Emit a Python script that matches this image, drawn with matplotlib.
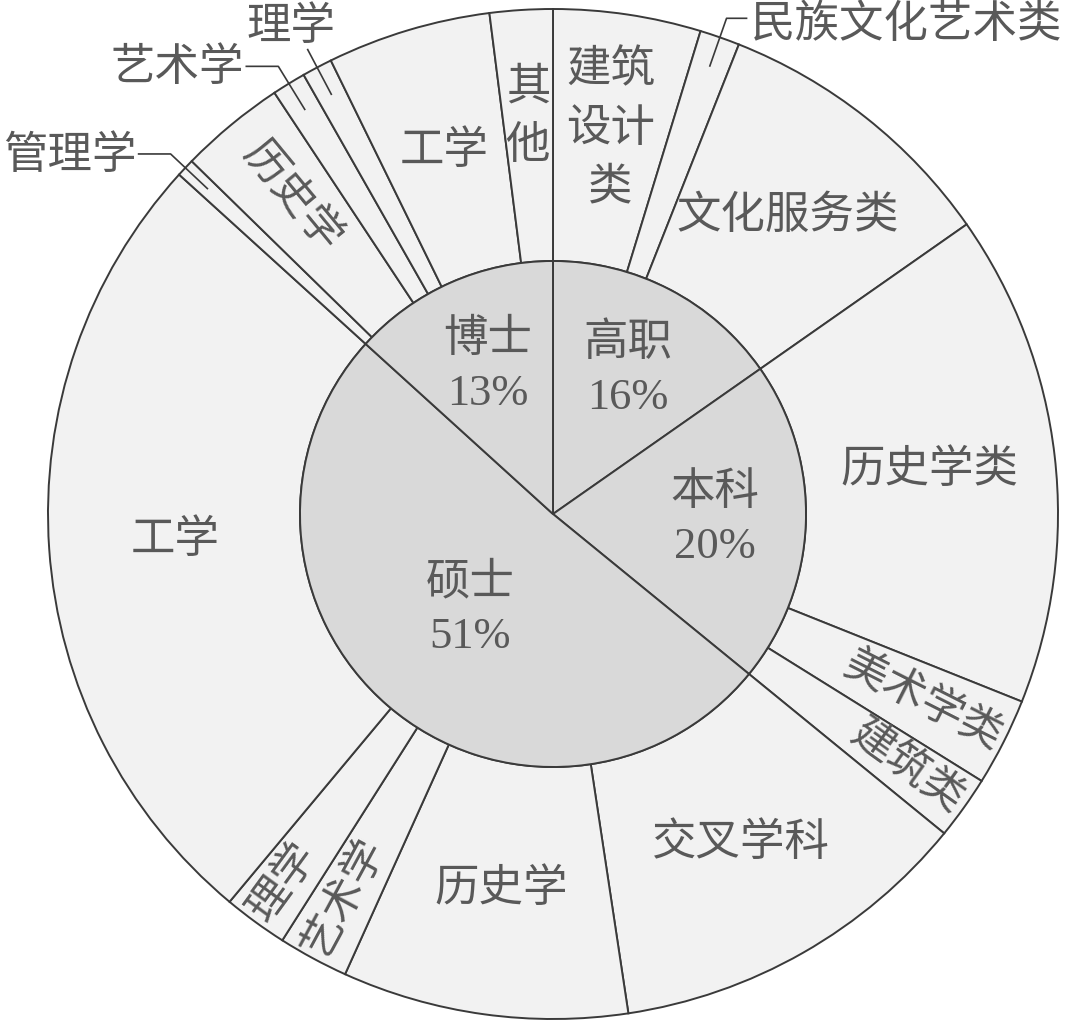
import numpy as np
import matplotlib
matplotlib.use('Agg')
import matplotlib.pyplot as plt

plt.rcParams['font.family'] = ['Liberation Serif', 'Noto Sans CJK SC']

# inner ring: education level
levels = ['高职', '本科', '硕士', '博士']
level_pct = ['16%', '20%', '51%', '13%']

# outer ring: subject per level (share of total, %)
gaozhi_names = ['建筑设计类', '民族文化艺术类', '文化服务类']
gaozhi_vals = [4.72, 1.28, 9.28]
benke_names = ['历史学类', '美术学类', '建筑类']
benke_vals = [15.78, 2.81, 2.03]
shuoshi_names = ['交叉学科', '历史学', '艺术学', '理学', '工学']
shuoshi_vals = [11.72, 9.14, 2.25, 2.06, 25.67]
boshi_names = ['管理学', '历史学', '艺术学', '理学', '工学', '其他']
boshi_vals = [0.58, 3.39, 1.08, 0.97, 5.24, 2.01]

child_names = [gaozhi_names, benke_names, shuoshi_names, boshi_names]
child_vals = [gaozhi_vals, benke_vals, shuoshi_vals, boshi_vals]

inner_vals = [sum(v) for v in child_vals]
outer_vals = [x for v in child_vals for x in v]
outer_names = [(lv, n) for lv, names in zip(levels, child_names) for n in names]

W, H = 1080, 1026
cx, cy = 553, 512
R = 505
r_in = 253
txt_col = '#595959'
edge = '#3a3a3a'
fs = 32

fig = plt.figure(figsize=(W / 100, H / 100), dpi=100)
ax = fig.add_axes([0, 0, 1, 1])

wp = dict(edgecolor=edge, linewidth=1.4)
ax.pie(outer_vals, radius=R, center=(cx, cy), startangle=90, counterclock=False,
       colors=['#f2f2f2'] * len(outer_vals), wedgeprops=dict(width=R - r_in, **wp))
ax.pie(inner_vals, radius=r_in, center=(cx, cy), startangle=90, counterclock=False,
       colors=['#d9d9d9'] * len(inner_vals), wedgeprops=wp)
ax.set_xlim(0, W)
ax.set_ylim(0, H)
ax.set_aspect('equal')
ax.axis('off')


def polar(r, ang):
    a = np.radians(ang)
    return cx + r * np.cos(a), cy + r * np.sin(a)


def mids(vals):
    tot = sum(outer_vals)
    c = np.cumsum([0] + list(vals))
    return [90 - 360 * (c[i] + vals[i] / 2) / tot for i in range(len(vals))]


# inner labels
inner_r = [0.64, 0.64, 0.5, 0.64]
for name, pct, m, fr in zip(levels, level_pct, mids(inner_vals), inner_r):
    x, y = polar(fr * r_in, m)
    ax.text(x, y, name + '\n' + pct, ha='center', va='center', fontsize=fs,
            color=txt_col, linespacing=1.45, fontweight='light')

# outer label tweaks
shown = {('高职', '建筑设计类'): '建筑\n设计\n类', ('博士', '其他'): '其\n他'}
radial = {('本科', '美术学类'): 414, ('本科', '建筑类'): 435,
          ('硕士', '艺术学'): 437, ('硕士', '理学'): 457,
          ('博士', '历史学'): 411}
plain_r = {('高职', '建筑设计类'): 389, ('博士', '其他'): 397}
outside = {('博士', '管理学'): 'left', ('博士', '艺术学'): 'left',
           ('博士', '理学'): 'top', ('高职', '民族文化艺术类'): 'right'}

for key, m in zip(outer_names, mids(outer_vals)):
    label = shown.get(key, key[1])
    if key in radial:
        rot = m
        while rot > 90:
            rot -= 180
        while rot < -90:
            rot += 180
        x, y = polar(radial[key], m)
        ax.text(x, y, label, ha='center', va='center', rotation=rot, fontsize=fs - 1,
                color=txt_col, rotation_mode='anchor', fontweight='light')
    elif key in outside:
        side = outside[key]
        x1, y1 = polar(0.94 * R, m)
        x2, y2 = polar(1.04 * R, m)
        if side == 'left':
            ax.plot([x1, x2, x2 - 32], [y1, y2, y2], color=edge, lw=1.2)
            ax.text(x2 - 34, y2 - 2, label, ha='right', va='center', fontsize=fs,
                    color=txt_col, fontweight='light')
        elif side == 'right':
            ax.plot([x1, x2, x2 + 20], [y1, y2, y2], color=edge, lw=1.2)
            ax.text(x2 + 24, y2 - 7, label, ha='left', va='center', fontsize=fs,
                    color=txt_col, fontweight='light')
        else:
            ax.plot([x1, x2], [y1, y2], color=edge, lw=1.2)
            ax.text(x2 - 17, y2 + 2, label, ha='center', va='bottom', fontsize=fs,
                    color=txt_col, fontweight='light')
    else:
        x, y = polar(plain_r.get(key, 379), m)
        ax.text(x, y, label, ha='center', va='center', fontsize=fs, color=txt_col,
                linespacing=1.55, fontweight='light')

fig.savefig('out.png', dpi=100, facecolor='white')
